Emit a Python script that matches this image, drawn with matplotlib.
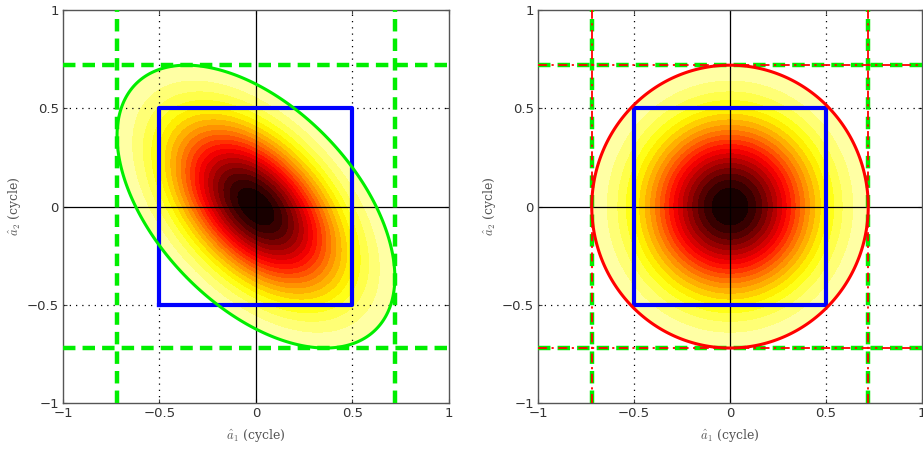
import numpy as np
import matplotlib
matplotlib.use('Agg')
import matplotlib.pyplot as plt
from matplotlib.colors import ListedColormap

# chart values
ticks = [-1, -0.5, 0, 0.5, 1]
tick_labels = ['\u22121', '\u22120.5', '0', '0.5', '1']
sigma = 0.3           # std of each ambiguity (cycle)
rho_left = -0.5       # correlation, left panel
rho_right = 0.0       # correlation, right panel
k_bound = 2.4         # contour bound (sigma units) -> 0.72 cycle
square = [-0.5, 0.5]  # pull-in region
bound_lines = [-0.72, 0.72]
n_levels = 20

plt.rcParams['mathtext.fontset'] = 'cm'

# hot_r without the pure white end, so the outer band stays pale yellow
cmap = ListedColormap(plt.get_cmap('hot_r')(np.linspace(0.07, 1, 256)))

fig = plt.figure(figsize=(9.23, 4.5), dpi=100)
ax1 = fig.add_axes([0.0683, 0.1044, 0.418, 0.873])
ax2 = fig.add_axes([0.5829, 0.1044, 0.416, 0.873])

g = np.linspace(-1, 1, 601)
X, Y = np.meshgrid(g, g)


def panel(ax, rho, edge_color, right):
    d2 = (X**2 - 2*rho*X*Y + Y**2) / (sigma**2 * (1 - rho**2))
    p = np.exp(-d2 / 2)
    lev = np.linspace(np.exp(-k_bound**2 / 2), 1.0001, n_levels + 1)
    ax.contourf(X, Y, p, levels=lev, cmap=cmap, zorder=1)

    # grid (dotted) and axes lines through 0
    for v in [-0.5, 0.5]:
        ax.axvline(v, color='k', ls=(0, (1, 4)), lw=0.9, zorder=2)
        ax.axhline(v, color='k', ls=(0, (1, 4)), lw=0.9, zorder=2)
    ax.axvline(0, color='k', lw=0.9, zorder=2)
    ax.axhline(0, color='k', lw=0.9, zorder=2)

    # pull-in square
    sx = [square[0], square[1], square[1], square[0], square[0]]
    sy = [square[0], square[0], square[1], square[1], square[0]]
    ax.plot(sx, sy, color='#0000ff', lw=3, zorder=4)

    # confidence ellipse / circle
    ax.contour(X, Y, d2, levels=[k_bound**2], colors=[edge_color],
               linewidths=2.2, zorder=5)

    # bounding lines
    for v in bound_lines:
        ax.axvline(v, color='#00ee00', ls=(0, (2.8, 1.6)), lw=3.2, zorder=3)
        ax.axhline(v, color='#00ee00', ls=(0, (2.8, 1.6)), lw=3.2, zorder=3)
        if right:
            ax.axvline(v, color='red', ls=(0, (5, 2.5, 1.2, 2.5)), lw=1.3, zorder=3)
            ax.axhline(v, color='red', ls=(0, (5, 2.5, 1.2, 2.5)), lw=1.3, zorder=3)

    ax.set_xlim(-1, 1)
    ax.set_ylim(-1, 1)
    ax.set_xticks(ticks)
    ax.set_yticks(ticks)
    ax.set_xticklabels(tick_labels)
    ax.set_yticklabels(tick_labels)
    ax.tick_params(direction='in', length=3, top=True, right=True,
                   labelsize=9.5, labelcolor='#333333', color='#444444', pad=3)
    for s in ax.spines.values():
        s.set_color('#555555')
        s.set_linewidth(1)
    ax.set_xlabel(r'$\hat{a}_1$ (cycle)', family='serif', fontsize=9,
                  color='#555555', labelpad=5)
    ax.set_ylabel(r'$\hat{a}_2$ (cycle)', family='serif', fontsize=9,
                  color='#555555', labelpad=3)


panel(ax1, rho_left, '#00ee00', False)
panel(ax2, rho_right, 'red', True)

fig.savefig('out.png', dpi=100)
